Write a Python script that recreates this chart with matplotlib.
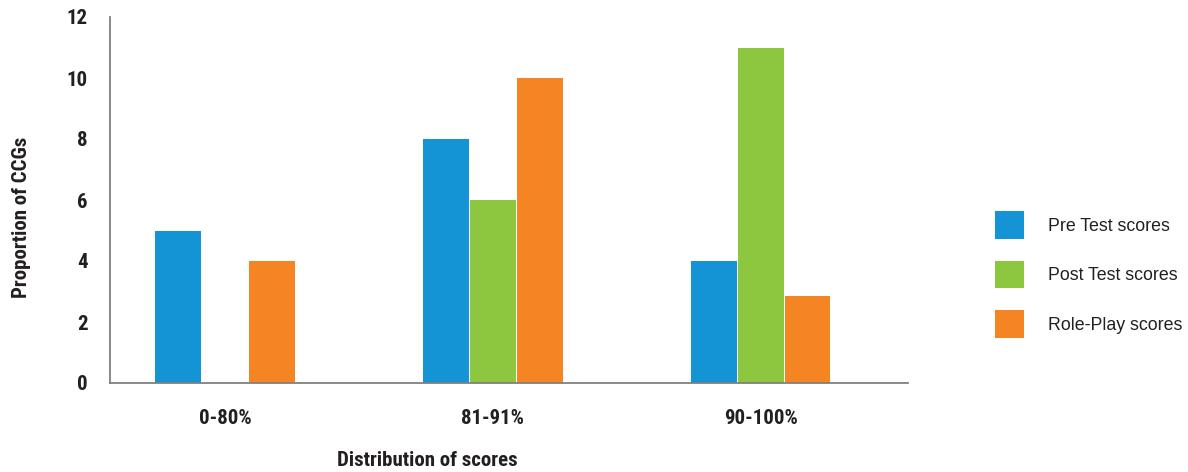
import matplotlib
matplotlib.use("Agg")
import matplotlib.pyplot as plt
from matplotlib.patches import Patch
import numpy as np

categories = ["0-80%", "81-91%", "90-100%"]
series_names = ["Pre Test scores", "Post Test scores", "Role-Play scores"]
pre_test = [5, 8, 4]
post_test = [0, 6, 11]
role_play = [4, 10, 2.85]
colors = ["#1494d4", "#8dc63f", "#f58422"]

bold_family = ["Roboto Condensed", "DejaVu Sans"]
text_color = "#231f20"
W, H = 1188, 472

fig = plt.figure(figsize=(W / 100, H / 100), dpi=100)
ax = fig.add_axes([110 / W, (H - 383) / H, (908 - 110) / W, (383 - 17) / H])

x = np.arange(len(categories))
offset = 0.175
width = 0.171
for i, (vals, col) in enumerate(zip([pre_test, post_test, role_play], colors)):
    ax.bar(x + (i - 1) * offset, vals, width=width, color=col, zorder=2)

ax.set_xlim(-0.43, 2.55)
ax.set_ylim(0, 12)
ax.set_yticks(range(0, 13, 2))
ax.set_xticks(x)
ax.set_xticklabels(categories)
for lab in ax.get_xticklabels() + ax.get_yticklabels():
    lab.set_family(bold_family)
    lab.set_fontsize(15)
    lab.set_fontweight("bold")
    lab.set_color(text_color)
ax.tick_params(axis="both", length=0)
ax.tick_params(axis="x", pad=19)
ax.tick_params(axis="y", pad=16)

for s in ["top", "right"]:
    ax.spines[s].set_visible(False)
for s in ["left", "bottom"]:
    ax.spines[s].set_color("#808080")
    ax.spines[s].set_linewidth(1.3)
ax.spines["bottom"].set_zorder(3)

fig.text(22 / W, 1 - 217 / H, "Proportion of CCGs", rotation=90, ha="center", va="center",
         family=bold_family, fontsize=15, fontweight="bold", color=text_color)
fig.text(427 / W, 1 - 461 / H, "Distribution of scores", ha="center", va="center",
         family=bold_family, fontsize=15, fontweight="bold", color=text_color)

handles = [Patch(facecolor=c, edgecolor="none") for c in colors]
leg = fig.legend(handles, series_names, loc="center left",
                 bbox_to_anchor=(995 / W, 1 - 274.5 / H), borderpad=0, borderaxespad=0,
                 frameon=False, handlelength=1.63, handleheight=2.0,
                 handletextpad=1.35, labelspacing=1.24,
                 prop={"family": ["Liberation Sans", "DejaVu Sans"], "size": 12.8})
for t in leg.get_texts():
    t.set_color(text_color)

fig.savefig("out.png", dpi=100)
